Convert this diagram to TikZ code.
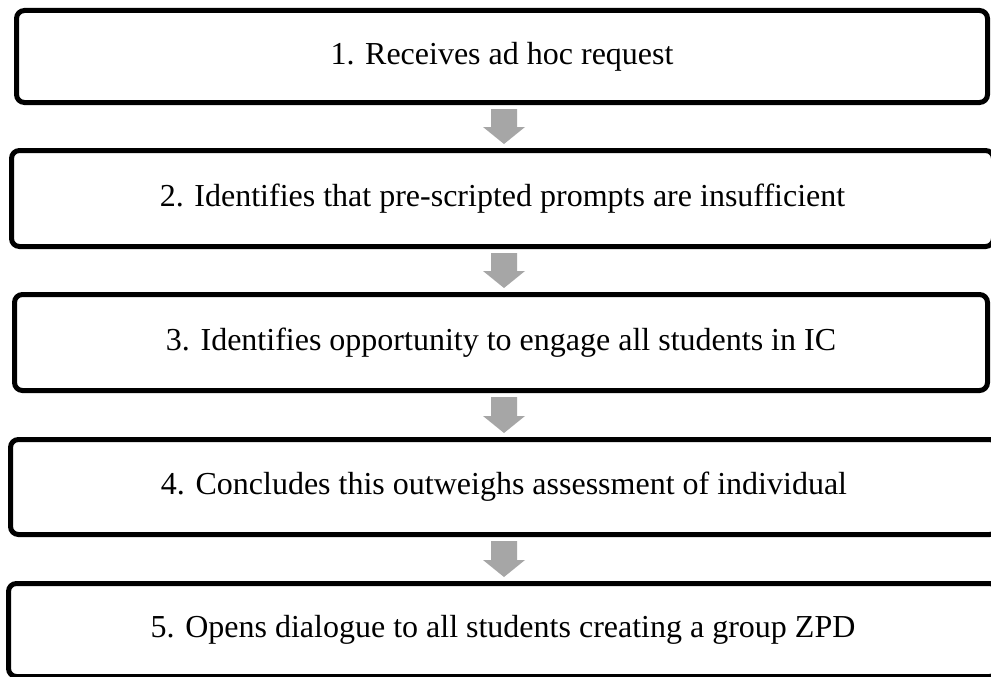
\documentclass[tikz,border=0pt]{standalone}
\usepackage{fontspec}
\setmainfont{Liberation Serif}
\usetikzlibrary{calc}
\definecolor{arrgray}{HTML}{A6A6A6}
\tikzset{
  stepbox/.style={draw=black, line width=5pt, rounded corners=8pt, fill=white, minimum width=#1, inner sep=0pt, font=\fontsize{32}{38}\selectfont},
  arr/.style={fill=arrgray}
}
\newcommand\blockarrow[2]{\fill[arr] let \p1=(#1.south), \p2=(#2.north) in
 (491pt,\y1-4pt) -- (517pt,\y1-4pt) -- (517pt,\y2+21pt) -- (525pt,\y2+21pt) -- (504pt,\y2+4pt) -- (483pt,\y2+21pt) -- (491pt,\y2+21pt) -- cycle;}
\begin{document}
\begin{tikzpicture}[x=1pt,y=-1pt]
\useasboundingbox (0,0) rectangle (991,677);
\clip (0,0) rectangle (991,677);
\fill[white] (0,0) rectangle (991,677);
\node[stepbox=971pt, minimum height=92pt] (b1) at (502,56.5) {1. Receives ad hoc request};
\node[stepbox=982pt, minimum height=96pt] (b2) at (502.5,198.5) {2. Identifies that pre-scripted prompts are insufficient};
\node[stepbox=973pt, minimum height=96pt] (b3) at (501,342.5) {3. Identifies opportunity to engage all students in IC};
\node[stepbox=987pt, minimum height=95pt] (b4) at (504,487) {4. Concludes this outweighs assessment of individual};
\node[stepbox=989pt, minimum height=93pt] (b5) at (503,630) {5. Opens dialogue to all students creating a group ZPD};
\blockarrow{b1}{b2}
\blockarrow{b2}{b3}
\blockarrow{b3}{b4}
\blockarrow{b4}{b5}
\end{tikzpicture}
\end{document}
